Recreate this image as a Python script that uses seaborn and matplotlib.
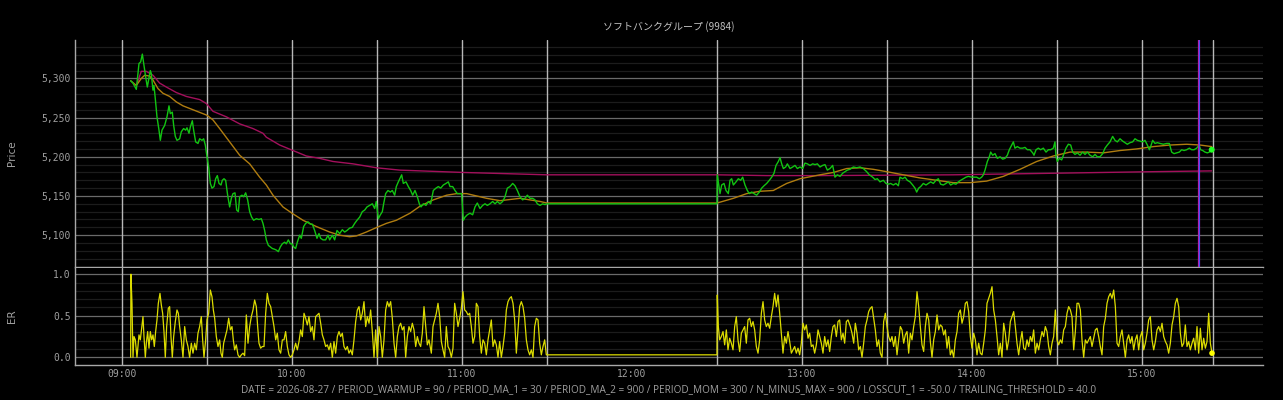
import numpy as np
import pandas as pd
import matplotlib
matplotlib.use("Agg")
import matplotlib.pyplot as plt
import matplotlib.dates as mdates
from matplotlib.ticker import MultipleLocator, FuncFormatter
import seaborn as sns

# ---------------- data ----------------
DATE = "2026-08-27"
TITLE = "ソフトバンクグループ (9984)"
FOOTER = ("DATE = 2026-08-27 / PERIOD_WARMUP = 90 / PERIOD_MA_1 = 30 / PERIOD_MA_2 = 900 / "
          "PERIOD_MOM = 300 / N_MINUS_MAX = 900 / LOSSCUT_1 = -50.0 / TRAILING_THRESHOLD = 40.0")

# minutes after 09:00
price_min = [
    3.06, 3.88, 5.06, 6.0, 6.59, 7.18, 7.65, 8.35, 8.94, 9.41,
    10.0, 10.35, 10.94, 11.29, 11.76, 12.35, 13.06, 13.53, 14.12, 15.06,
    15.88, 16.59, 17.06, 17.76, 18.24, 18.82, 19.41, 20.35, 20.94, 21.76,
    22.47, 22.94, 23.65, 24.12, 24.82, 25.29, 26.0, 26.82, 27.41, 28.24,
    28.82, 29.41, 30.0, 30.59, 31.18, 31.76, 32.47, 33.06, 33.65, 34.24,
    34.94, 35.41, 36.0, 36.59, 37.29, 38.0, 38.59, 39.18, 39.88, 40.47,
    41.06, 41.53, 42.35, 42.94, 43.65, 44.35, 45.06, 45.76, 46.47, 47.41,
    48.35, 49.18, 49.76, 50.35, 50.94, 51.65, 52.35, 53.06, 53.88, 54.47,
    55.18, 55.88, 56.59, 57.41, 58.0, 58.71, 59.41, 60.0, 60.59, 61.29,
    61.88, 62.71, 63.29, 64.12, 64.82, 65.65, 66.47, 67.18, 68.0, 68.82,
    69.53, 70.12, 70.94, 71.88, 72.71, 73.29, 74.24, 75.06, 75.88, 76.82,
    77.76, 78.59, 79.41, 80.35, 81.29, 82.12, 82.94, 83.88, 84.82, 85.65,
    86.47, 87.41, 88.35, 89.18, 89.76, 90.47, 91.18, 91.88, 92.35, 93.06,
    93.88, 94.71, 95.41, 96.24, 96.82, 97.53, 98.71, 99.29, 100.24, 101.06,
    101.88, 102.59, 103.41, 104.24, 104.94, 105.53, 106.35, 107.29, 108.12, 108.94,
    109.88, 110.82, 111.65, 112.47, 113.41, 114.35, 115.18, 115.76, 116.71, 117.53,
    118.35, 119.29, 119.88, 120.47, 121.06, 121.88, 122.82, 123.76, 124.59, 125.41,
    126.35, 127.29, 128.12, 128.94, 129.88, 130.82, 131.65, 132.47, 133.41, 134.35,
    135.18, 136.0, 136.94, 137.88, 138.71, 139.53, 140.47, 141.41, 142.24, 143.06,
    144.0, 144.94, 145.77, 146.59, 147.53, 148.47, 149.3, 150.0, 210.0,
    210.1, 210.47, 211.06, 211.65, 212.47, 213.18, 214.0, 214.59, 215.18, 215.77,
    216.71, 217.53, 218.36, 219.06, 219.88, 220.71, 221.41, 222.24, 223.06, 224.0,
    224.94, 225.77, 226.59, 227.53, 228.47, 229.3, 230.12, 230.83, 231.65, 232.24,
    232.83, 233.42, 234.24, 234.83, 235.77, 236.71, 237.53, 238.36, 239.3, 240.24,
    241.06, 241.89, 242.83, 243.77, 244.59, 245.42, 246.35, 247.29, 248.11, 248.94,
    249.88, 250.82, 251.64, 252.47, 253.41, 254.35, 255.17, 256.0, 256.94, 258.11,
    259.29, 260.47, 261.64, 262.82, 263.76, 264.94, 265.76, 266.59, 267.53, 268.7,
    269.64, 270.47, 271.29, 272.23, 273.17, 274.0, 274.59, 275.53, 276.35, 277.17,
    278.12, 279.06, 279.88, 280.47, 281.17, 281.88, 282.82, 283.76, 284.59, 285.41,
    286.35, 287.29, 288.12, 288.94, 289.88, 290.82, 291.64, 292.47, 293.41, 294.35,
    295.17, 296.0, 296.94, 297.88, 298.7, 299.88, 300.7, 301.64, 302.59, 303.41,
    304.0, 304.59, 305.41, 306.11, 306.59, 307.29, 308.12, 308.94, 309.88, 310.82,
    311.65, 312.47, 313.17, 314.0, 314.59, 315.17, 316.0, 316.94, 317.88, 318.7,
    319.53, 320.47, 321.41, 321.88, 322.59, 323.41, 324.23, 325.17, 326.12, 326.94,
    327.76, 328.7, 329.29, 329.65, 330.12, 330.82, 331.65, 332.47, 333.17, 334.0,
    334.82, 335.53, 336.35, 337.17, 338.12, 339.06, 339.88, 340.7, 341.65, 342.59,
    343.41, 344.23, 345.17, 346.11, 346.94, 347.76, 348.7, 349.64, 350.47, 351.29,
    352.23, 353.17, 354.0, 354.82, 355.76, 356.7, 357.53, 358.35, 359.29, 360.23,
    361.05, 361.88, 362.59, 363.05, 363.76, 364.59, 365.41, 366.35, 367.53, 368.7,
    369.64, 370.47, 371.29, 372.23, 373.17, 374.0, 374.82, 375.76, 376.7, 377.53,
    378.35, 379.29, 380.11, 380.7, 381.41, 382.23, 383.05, 383.76, 384.58,
]
price_val = [
    5297, 5294, 5286, 5319, 5321, 5331, 5319, 5302, 5289, 5298,
    5310, 5306, 5285, 5291, 5274, 5251, 5234, 5221, 5234, 5240,
    5251, 5265, 5255, 5257, 5240, 5226, 5221, 5223, 5232, 5236,
    5234, 5237, 5230, 5238, 5246, 5234, 5219, 5217, 5223, 5221,
    5223, 5215, 5200, 5187, 5166, 5160, 5162, 5172, 5176, 5166,
    5164, 5170, 5172, 5170, 5151, 5136, 5147, 5153, 5154, 5132,
    5130, 5149, 5151, 5149, 5154, 5145, 5130, 5123, 5119, 5121,
    5120, 5121, 5115, 5106, 5094, 5087, 5085, 5083, 5082, 5081,
    5079, 5085, 5089, 5091, 5089, 5094, 5089, 5089, 5085, 5083,
    5091, 5100, 5096, 5111, 5115, 5117, 5114, 5114, 5106, 5096,
    5102, 5096, 5094, 5094, 5100, 5094, 5100, 5094, 5106, 5102,
    5107, 5104, 5106, 5109, 5110, 5115, 5119, 5123, 5130, 5132,
    5136, 5138, 5140, 5134, 5143, 5121, 5126, 5130, 5140, 5153,
    5157, 5155, 5157, 5151, 5162, 5168, 5177, 5166, 5168, 5162,
    5157, 5151, 5157, 5149, 5140, 5136, 5140, 5138, 5143, 5140,
    5157, 5160, 5162, 5160, 5164, 5166, 5168, 5162, 5162, 5157,
    5153, 5153, 5153, 5119, 5123, 5126, 5128, 5126, 5136, 5141,
    5134, 5138, 5140, 5138, 5140, 5143, 5140, 5143, 5140, 5143,
    5149, 5160, 5162, 5166, 5163, 5157, 5149, 5145, 5147, 5151,
    5147, 5147, 5145, 5140, 5138, 5140, 5139, 5140, 5140,
    5177, 5168, 5153, 5164, 5166, 5157, 5153, 5170, 5172, 5164,
    5168, 5172, 5170, 5174, 5164, 5157, 5153, 5155, 5153, 5151,
    5155, 5160, 5163, 5166, 5170, 5174, 5179, 5189, 5194, 5199,
    5191, 5185, 5187, 5191, 5185, 5187, 5189, 5185, 5187, 5185,
    5192, 5191, 5189, 5191, 5190, 5191, 5187, 5189, 5190, 5183,
    5185, 5189, 5174, 5177, 5175, 5179, 5181, 5183, 5184, 5187,
    5186, 5187, 5185, 5181, 5177, 5174, 5171, 5172, 5168, 5170,
    5166, 5165, 5166, 5164, 5166, 5163, 5174, 5172, 5174, 5170,
    5168, 5164, 5160, 5155, 5160, 5162, 5166, 5164, 5166, 5168,
    5166, 5170, 5172, 5165, 5164, 5166, 5168, 5164, 5166, 5165,
    5168, 5170, 5172, 5174, 5175, 5174, 5174, 5174, 5172, 5174,
    5177, 5183, 5194, 5200, 5206, 5202, 5204, 5198, 5200, 5197,
    5198, 5202, 5209, 5215, 5219, 5211, 5213, 5211, 5211, 5212,
    5209, 5209, 5205, 5202, 5209, 5211, 5209, 5211, 5206, 5209,
    5209, 5211, 5219, 5200, 5194, 5198, 5196, 5204, 5211, 5216,
    5215, 5206, 5203, 5205, 5202, 5206, 5203, 5206, 5202, 5200,
    5203, 5200, 5200, 5204, 5211, 5215, 5219, 5226, 5221, 5219,
    5223, 5220, 5218, 5216, 5218, 5219, 5223, 5221, 5220, 5219,
    5221, 5215, 5209, 5213, 5221, 5217, 5218, 5217, 5216, 5217,
    5217, 5206, 5204, 5205, 5206, 5209, 5208, 5209, 5211, 5209,
    5209, 5211, 5215, 5209, 5208, 5206, 5205, 5206, 5209,
]

ma1_min = [
    3.06, 5.06, 6.82, 8.0, 9.76, 10.94, 12.71, 14.47, 16.82, 19.18,
    21.53, 25.06, 28.59, 30.0, 32.12, 34.47, 38.0, 41.53, 45.06, 48.59,
    50.94, 53.29, 56.82, 60.0, 63.88, 68.59, 73.29, 76.82, 80.35, 82.71,
    86.24, 90.0, 93.29, 96.82, 101.65, 105.18, 109.88, 114.59, 118.12, 121.65,
    125.18, 128.71, 133.41, 138.12, 140.47, 144.0, 147.53, 150.0, 210.0, 215.77,
    220.48, 225.18, 229.88, 234.59, 239.3, 246.35, 251.06, 255.76, 260.47, 265.17,
    269.88, 275.76, 281.65, 287.53, 293.41, 299.29, 305.18, 311.06, 316.94, 322.82,
    328.7, 334.59, 340.47, 346.35, 352.23, 358.11, 364.0, 369.88, 375.76, 380.47, 384.58,
]
ma1_val = [
    5297, 5291, 5300, 5304, 5303, 5298, 5287, 5281, 5277, 5270,
    5265, 5260, 5255, 5253, 5247, 5236, 5219, 5202, 5191, 5174,
    5164, 5151, 5136, 5128, 5119, 5111, 5104, 5100, 5098, 5099,
    5104, 5110, 5115, 5119, 5128, 5137, 5145, 5151, 5153, 5153,
    5150, 5147, 5144, 5146, 5147, 5145, 5143, 5141, 5141, 5147,
    5153, 5156, 5157, 5166, 5172, 5177, 5180, 5185, 5186, 5184,
    5181, 5177, 5173, 5170, 5167, 5167, 5169, 5175, 5184, 5194,
    5201, 5206, 5206, 5205, 5208, 5210, 5213, 5215, 5216, 5215, 5213,
]

ma2_min = [
    5.06, 6.82, 8.59, 10.94, 13.29, 15.65, 19.18, 22.71, 27.41, 29.76,
    32.12, 36.82, 41.53, 46.24, 49.76, 50.94, 55.65, 60.35, 65.06, 69.76,
    74.47, 81.53, 89.76, 98.0, 120.47, 150.0, 210.0, 227.53, 246.35, 293.41,
    328.7, 364.0, 384.58,
]
ma2_val = [
    5291, 5309, 5309, 5304, 5294, 5289, 5282, 5277, 5273, 5268,
    5258, 5251, 5242, 5236, 5230, 5225, 5215, 5208, 5201, 5198,
    5194, 5191, 5186, 5183, 5180, 5177, 5177, 5176, 5176, 5177,
    5179, 5181, 5182,
]

er_min = [
    3.06, 3.15, 3.53, 3.88, 4.24, 4.71, 5.29, 6.0, 6.47, 6.94,
    7.41, 7.76, 8.24, 8.59, 9.06, 9.53, 10.0, 10.47, 10.94, 11.41,
    11.88, 12.35, 12.82, 13.41, 13.88, 14.35, 14.82, 15.29, 15.76, 16.35,
    16.82, 17.29, 17.76, 18.24, 18.82, 19.41, 19.88, 20.35, 20.94, 21.53,
    22.12, 22.71, 23.29, 23.88, 24.47, 25.06, 25.65, 26.24, 26.82, 27.41,
    28.0, 28.47, 28.94, 29.53, 30.0, 30.59, 31.18, 31.76, 32.24, 32.71,
    33.29, 33.88, 34.47, 34.94, 35.41, 35.88, 36.47, 37.06, 37.65, 38.24,
    38.82, 39.29, 39.76, 40.35, 40.94, 41.53, 42.12, 42.71, 43.29, 43.88,
    44.47, 45.06, 45.65, 46.24, 46.82, 47.41, 47.88, 48.35, 48.94, 49.53,
    50.12, 50.71, 51.29, 51.88, 52.47, 53.06, 53.65, 54.24, 54.82, 55.41,
    56.0, 56.59, 57.18, 57.76, 58.35, 58.94, 59.53, 60.12, 60.71, 61.29,
    61.88, 62.47, 63.06, 63.65, 64.24, 64.82, 65.41, 66.0, 66.59, 67.18,
    67.76, 68.35, 68.94, 69.53, 70.12, 70.71, 71.29, 71.88, 72.47, 73.06,
    73.65, 74.24, 74.82, 75.41, 76.0, 76.59, 77.18, 77.76, 78.35, 78.94,
    79.53, 80.12, 80.71, 81.29, 81.88, 82.47, 83.06, 83.65, 84.24, 84.82,
    85.41, 86.0, 86.59, 87.18, 87.76, 88.35, 88.94, 89.53, 90.12, 90.71,
    91.29, 91.88, 92.47, 93.06, 93.65, 94.24, 94.82, 95.41, 96.0, 96.59,
    97.18, 97.76, 98.35, 98.94, 99.53, 100.12, 100.71, 101.29, 101.88, 102.47,
    103.06, 103.65, 104.24, 104.82, 105.41, 106.0, 106.59, 107.18, 107.76, 108.35,
    109.18, 109.76, 110.35, 110.94, 111.53, 112.12, 112.71, 113.29, 113.88, 114.47,
    115.06, 115.65, 116.24, 116.82, 117.41, 118.0, 118.59, 119.18, 119.76, 120.35,
    120.94, 121.53, 122.12, 122.71, 123.29, 123.88, 124.47, 125.06, 125.65, 126.24,
    126.82, 127.41, 128.0, 128.59, 129.18, 129.76, 130.35, 130.94, 131.53, 132.12,
    132.71, 133.29, 133.88, 134.47, 135.06, 135.65, 136.24, 136.82, 137.41, 138.0,
    138.59, 139.18, 139.76, 140.35, 140.94, 141.53, 142.12, 142.71, 143.29, 143.88,
    144.47, 145.06, 145.65, 146.24, 146.82, 147.41, 148.0, 148.59, 149.18, 149.76,
    150.0, 210.0,
    210.1, 210.47, 210.94, 211.53, 212.12, 212.71, 213.29, 213.88, 214.47, 215.06,
    215.65, 216.24, 216.82, 217.41, 218.0, 218.59, 219.18, 219.76, 220.35, 220.94,
    221.53, 222.12, 222.71, 223.29, 223.88, 224.47, 225.06, 225.65, 226.24, 226.82,
    227.41, 228.0, 228.59, 229.18, 229.76, 230.35, 230.94, 231.53, 232.12, 232.71,
    233.29, 233.88, 234.47, 235.06, 235.65, 236.24, 236.82, 237.41, 238.0, 238.59,
    239.18, 239.76, 240.35, 240.94, 241.53, 242.12, 242.71, 243.29, 243.88, 244.47,
    245.06, 245.65, 246.24, 246.82, 247.41, 248.0, 248.59, 249.18, 249.76, 250.35,
    250.94, 251.53, 252.12, 252.71, 253.29, 253.88, 254.47, 255.06, 255.65, 256.24,
    257.06, 257.65, 258.24, 258.82, 259.41, 260.0, 260.59, 261.18, 261.76, 262.35,
    262.94, 263.53, 264.12, 264.71, 265.29, 265.88, 266.47, 267.06, 267.65, 268.24,
    268.82, 269.41, 270.0, 270.59, 271.18, 271.76, 272.35, 272.94, 273.53, 274.12,
    274.71, 275.29, 275.88, 276.47, 277.06, 277.65, 278.24, 278.82, 279.41, 280.0,
    280.59, 281.18, 281.76, 282.35, 282.94, 283.53, 284.12, 284.71, 285.29, 285.88,
    286.47, 287.06, 287.65, 288.24, 288.82, 289.41, 290.0, 290.59, 291.18, 291.76,
    292.35, 292.94, 293.53, 294.12, 294.71, 295.29, 295.88, 296.47, 297.06, 297.65,
    298.24, 298.82, 299.41, 300.0, 300.59, 301.18, 301.76, 302.35, 302.94, 303.53,
    304.12, 304.71, 305.29, 305.88, 306.47, 307.06, 307.65, 308.24, 308.82, 309.41,
    310.0, 310.59, 311.18, 311.76, 312.35, 312.94, 313.53, 314.12, 314.71, 315.29,
    315.88, 316.47, 317.06, 317.65, 318.24, 318.82, 319.41, 320.0, 320.59, 321.18,
    321.76, 322.35, 322.94, 323.53, 324.12, 324.71, 325.29, 325.88, 326.47, 327.06,
    327.65, 328.24, 328.82, 329.41, 330.0, 330.59, 331.18, 331.76, 332.35, 332.94,
    333.53, 334.12, 334.71, 335.29, 335.88, 336.47, 337.06, 337.65, 338.24, 338.82,
    339.41, 340.0, 340.59, 341.18, 341.76, 342.35, 342.94, 343.53, 344.12, 344.71,
    345.29, 345.88, 346.47, 347.06, 347.65, 348.24, 348.82, 349.41, 350.0, 350.59,
    351.18, 351.76, 352.35, 352.94, 353.53, 354.12, 354.71, 355.29, 355.88, 356.47,
    357.06, 357.65, 358.24, 358.82, 359.41, 360.0, 360.59, 361.18, 361.76, 362.35,
    362.94, 363.53, 364.12, 364.71, 365.29, 365.88, 366.47, 367.06, 367.65, 368.24,
    368.82, 369.41, 370.0, 370.59, 371.18, 371.76, 372.35, 372.94, 373.53, 374.12,
    374.71, 375.29, 375.88, 376.47, 377.06, 377.65, 378.24, 378.82, 379.41, 380.0,
    380.59, 381.18, 381.76, 382.35, 382.94, 383.53, 384.12, 384.7,
]
er_val = [
    0.0, 1.0, 0.65, 0.0, 0.25, 0.21, 0.0, 0.27, 0.21, 0.35,
    0.49, 0.25, 0.0, 0.17, 0.31, 0.11, 0.31, 0.21, 0.27, 0.13,
    0.31, 0.45, 0.65, 0.77, 0.63, 0.53, 0.31, 0.0, 0.37, 0.59,
    0.61, 0.25, 0.0, 0.25, 0.43, 0.57, 0.53, 0.37, 0.21, 0.0,
    0.37, 0.21, 0.13, 0.0, 0.17, 0.05, 0.17, 0.09, 0.29, 0.37,
    0.49, 0.21, 0.0, 0.21, 0.45, 0.53, 0.81, 0.73, 0.57, 0.47,
    0.25, 0.13, 0.21, 0.05, 0.0, 0.17, 0.25, 0.33, 0.47, 0.33,
    0.37, 0.21, 0.09, 0.15, 0.03, 0.0, 0.03, 0.05, 0.02, 0.51,
    0.17, 0.37, 0.49, 0.57, 0.69, 0.61, 0.37, 0.17, 0.11, 0.13,
    0.13, 0.53, 0.77, 0.65, 0.61, 0.49, 0.37, 0.21, 0.29, 0.09,
    0.05, 0.21, 0.21, 0.31, 0.13, 0.03, 0.0, 0.03, 0.09, 0.17,
    0.09, 0.19, 0.33, 0.25, 0.53, 0.47, 0.39, 0.49, 0.31, 0.37,
    0.21, 0.49, 0.51, 0.53, 0.41, 0.27, 0.21, 0.13, 0.15, 0.09,
    0.17, 0.0, 0.19, 0.05, 0.25, 0.31, 0.25, 0.29, 0.13, 0.09,
    0.13, 0.05, 0.09, 0.03, 0.21, 0.43, 0.57, 0.61, 0.45, 0.53,
    0.67, 0.37, 0.49, 0.41, 0.57, 0.31, 0.0, 0.33, 0.0, 0.37,
    0.25, 0.0, 0.21, 0.57, 0.67, 0.61, 0.67, 0.47, 0.17, 0.0,
    0.25, 0.37, 0.41, 0.33, 0.37, 0.0, 0.25, 0.37, 0.31, 0.41,
    0.33, 0.13, 0.25, 0.17, 0.13, 0.29, 0.61, 0.37, 0.15, 0.21,
    0.05, 0.37, 0.45, 0.53, 0.65, 0.49, 0.19, 0.09, 0.0, 0.37,
    0.13, 0.09, 0.0, 0.11, 0.65, 0.53, 0.37, 0.47, 0.59, 0.79,
    0.57, 0.55, 0.51, 0.53, 0.37, 0.17, 0.25, 0.65, 0.61, 0.25,
    0.05, 0.21, 0.17, 0.03, 0.21, 0.33, 0.45, 0.13, 0.21, 0.15,
    0.0, 0.19, 0.0, 0.13, 0.29, 0.57, 0.67, 0.71, 0.73, 0.65,
    0.45, 0.05, 0.33, 0.61, 0.67, 0.61, 0.47, 0.21, 0.09, 0.03,
    0.09, 0.0, 0.37, 0.47, 0.45, 0.17, 0.03, 0.13, 0.21, 0.03,
    0.03, 0.03,
    0.75, 0.37, 0.21, 0.25, 0.31, 0.15, 0.33, 0.09, 0.23, 0.17,
    0.09, 0.37, 0.49, 0.21, 0.07, 0.29, 0.33, 0.37, 0.17, 0.45,
    0.47, 0.37, 0.43, 0.33, 0.13, 0.05, 0.21, 0.53, 0.67, 0.45,
    0.37, 0.41, 0.35, 0.49, 0.61, 0.77, 0.61, 0.75, 0.53, 0.29,
    0.05, 0.25, 0.17, 0.31, 0.19, 0.05, 0.09, 0.13, 0.05, 0.11,
    0.03, 0.17, 0.41, 0.33, 0.39, 0.23, 0.29, 0.13, 0.15, 0.05,
    0.15, 0.33, 0.25, 0.17, 0.05, 0.25, 0.13, 0.21, 0.07, 0.25,
    0.37, 0.39, 0.25, 0.43, 0.45, 0.21, 0.29, 0.17, 0.43, 0.45,
    0.37, 0.29, 0.17, 0.41, 0.29, 0.09, 0.13, 0.0, 0.17, 0.37,
    0.45, 0.55, 0.59, 0.61, 0.47, 0.33, 0.13, 0.21, 0.05, 0.0,
    0.43, 0.53, 0.37, 0.25, 0.19, 0.25, 0.13, 0.25, 0.03, 0.21,
    0.37, 0.33, 0.17, 0.27, 0.31, 0.05, 0.29, 0.21, 0.37, 0.49,
    0.79, 0.61, 0.37, 0.15, 0.07, 0.37, 0.53, 0.45, 0.19, 0.0,
    0.21, 0.31, 0.51, 0.33, 0.39, 0.37, 0.27, 0.33, 0.11, 0.25,
    0.03, 0.09, 0.0, 0.21, 0.31, 0.53, 0.57, 0.41, 0.49, 0.65,
    0.67, 0.55, 0.25, 0.11, 0.29, 0.21, 0.03, 0.17, 0.05, 0.03,
    0.17, 0.33, 0.65, 0.71, 0.77, 0.85, 0.57, 0.45, 0.25, 0.03,
    0.17, 0.0, 0.41, 0.29, 0.09, 0.21, 0.43, 0.49, 0.55, 0.37,
    0.17, 0.03, 0.19, 0.31, 0.11, 0.09, 0.21, 0.13, 0.25, 0.19,
    0.33, 0.05, 0.17, 0.09, 0.21, 0.31, 0.25, 0.37, 0.31, 0.13,
    0.03, 0.17, 0.25, 0.57, 0.21, 0.15, 0.21, 0.17, 0.33, 0.37,
    0.53, 0.61, 0.57, 0.49, 0.09, 0.31, 0.65, 0.65, 0.57, 0.21,
    0.0, 0.21, 0.17, 0.21, 0.25, 0.13, 0.23, 0.33, 0.35, 0.25,
    0.13, 0.03, 0.37, 0.47, 0.65, 0.73, 0.77, 0.71, 0.81, 0.61,
    0.17, 0.13, 0.25, 0.33, 0.17, 0.0, 0.21, 0.27, 0.17, 0.25,
    0.09, 0.21, 0.27, 0.09, 0.25, 0.31, 0.09, 0.17, 0.29, 0.45,
    0.49, 0.21, 0.09, 0.19, 0.33, 0.37, 0.31, 0.41, 0.25, 0.19,
    0.15, 0.05, 0.17, 0.39, 0.49, 0.65, 0.71, 0.61, 0.29, 0.13,
    0.17, 0.39, 0.13, 0.19, 0.09, 0.17, 0.23, 0.09, 0.37, 0.05,
    0.35, 0.09, 0.23, 0.11, 0.19, 0.53, 0.17, 0.05,
]

session_marks = ["09:00", "09:30", "10:00", "10:30", "11:00", "11:30",
                 "12:30", "13:00", "13:30", "14:00", "14:30", "15:00", "15:25"]
signal_mark = "15:20"
x_range = ["08:43:25", "15:42:42"]
price_ylim = [5059, 5349]
er_ylim = [-0.096, 1.075]

# ---------------- style ----------------
BG = "#000000"
FG = "#a0a0a0"
sns.set_theme(style="dark", rc={
    "figure.facecolor": BG, "axes.facecolor": BG, "savefig.facecolor": BG,
    "axes.edgecolor": FG, "text.color": FG, "axes.labelcolor": FG,
    "xtick.color": FG, "ytick.color": FG,
})
plt.rcParams["font.family"] = ["DejaVu Sans", "Noto Sans CJK JP"]

base = pd.Timestamp(f"{DATE} 09:00")
def to_time(mins):
    return base + pd.to_timedelta(np.asarray(mins, dtype=float), unit="m")

df_price = pd.DataFrame({"time": to_time(price_min), "value": price_val})
df_ma1 = pd.DataFrame({"time": to_time(ma1_min), "value": ma1_val})
df_ma2 = pd.DataFrame({"time": to_time(ma2_min), "value": ma2_val})
df_er = pd.DataFrame({"time": to_time(er_min), "value": er_val})

fig = plt.figure(figsize=(12.83, 4.0), dpi=100)
ax1 = fig.add_axes([75 / 1283, 1 - 267.3 / 400, 1188 / 1283, 227.3 / 400])
ax2 = fig.add_axes([75 / 1283, 1 - 365.3 / 400, 1188 / 1283, 97.3 / 400], sharex=ax1)

C_PRICE = "#12c412"
C_MA1 = "#b07d10"
C_MA2 = "#a3105c"
C_ER = "#dcdc00"

sns.lineplot(data=df_ma2, x="time", y="value", ax=ax1, color=C_MA2, lw=1.0,
             estimator=None, sort=False, zorder=3)
sns.lineplot(data=df_ma1, x="time", y="value", ax=ax1, color=C_MA1, lw=1.0,
             estimator=None, sort=False, zorder=3)
sns.lineplot(data=df_price, x="time", y="value", ax=ax1, color=C_PRICE, lw=1.0,
             estimator=None, sort=False, zorder=4)
sns.scatterplot(data=df_price.tail(1), x="time", y="value", ax=ax1, color="#22ff22",
                s=18, edgecolor="none", zorder=5)

sns.lineplot(data=df_er, x="time", y="value", ax=ax2, color=C_ER, lw=0.9,
             estimator=None, sort=False, zorder=4)
sns.scatterplot(data=df_er.tail(1), x="time", y="value", ax=ax2, color="#ffff00",
                s=16, edgecolor="none", zorder=5)

for ax in (ax1, ax2):
    for m in session_marks:
        ax.axvline(pd.Timestamp(f"{DATE} {m}"), color="#b8b8b8", lw=1.0, zorder=2)
sig = pd.Timestamp(f"{DATE} {signal_mark}")
ax1.axvline(sig, color="#b020b0", lw=1.6, zorder=6)
ax1.axvline(sig, color="#3060ff", lw=0.6, zorder=7)

ax1.set_xlim(pd.Timestamp(f"{DATE} {x_range[0]}"), pd.Timestamp(f"{DATE} {x_range[1]}"))
ax1.set_ylim(*price_ylim)
ax2.set_ylim(*er_ylim)

ax1.yaxis.set_major_locator(MultipleLocator(50))
ax1.yaxis.set_minor_locator(MultipleLocator(10))
ax1.yaxis.set_major_formatter(FuncFormatter(lambda v, p: f"{v:,.0f}"))
ax2.yaxis.set_major_locator(MultipleLocator(0.5))
ax2.yaxis.set_minor_locator(MultipleLocator(0.1))
ax2.yaxis.set_major_formatter(FuncFormatter(lambda v, p: f"{v:.1f}"))
ax2.xaxis.set_major_locator(mdates.HourLocator())
ax2.xaxis.set_major_formatter(mdates.DateFormatter("%H:%M"))

for ax in (ax1, ax2):
    ax.grid(False)
    ax.yaxis.grid(True, which="major", color="#6a6a6a", lw=0.9, zorder=0)
    ax.yaxis.grid(True, which="minor", color="#1c1c1c", lw=0.9, zorder=0)
    ax.set_axisbelow(True)
    for s in ("top", "right"):
        ax.spines[s].set_visible(False)
    for s in ("left", "bottom"):
        ax.spines[s].set_color("#a8a8a8")
        ax.spines[s].set_linewidth(1.0)
    ax.tick_params(axis="both", which="major", direction="in", length=4, width=0.8,
                   color="#a8a8a8", labelsize=7, labelcolor=FG, pad=3,
                   labelfontfamily="DejaVu Sans Mono")
    ax.tick_params(axis="both", which="minor", length=0)

ax1.tick_params(axis="x", labelbottom=False)
ax1.set_xlabel("")
ax1.set_ylabel("Price", fontsize=7.5, color=FG)
ax2.set_ylabel("ER", fontsize=7.5, color=FG)
ax1.yaxis.set_label_coords(-0.049, 0.5)
ax2.yaxis.set_label_coords(-0.049, 0.5)
ax2.set_xlabel(FOOTER, fontsize=7.2, color=FG, labelpad=3,
               fontfamily=["Open Sans", "DejaVu Sans"])
ax1.set_title(TITLE, fontsize=7.2, color="#c0c0c0", pad=7,
              fontfamily=["Noto Sans CJK JP", "DejaVu Sans"])

fig.savefig("out.png", dpi=100, facecolor=BG)
